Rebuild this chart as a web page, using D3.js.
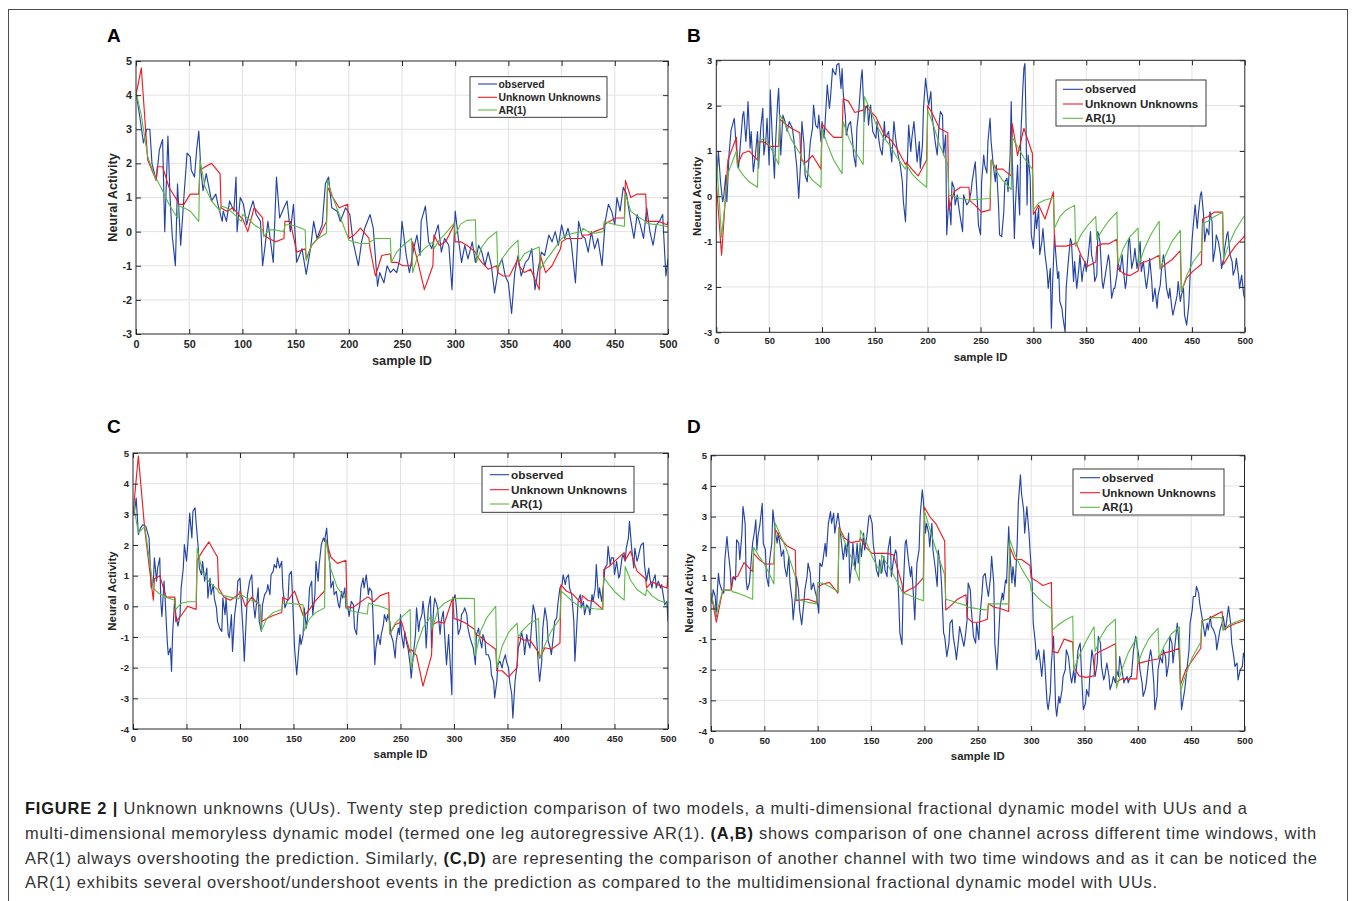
<!DOCTYPE html>
<html>
<head>
<meta charset="utf-8">
<script src="https://cdn.jsdelivr.net/npm/d3@7"></script>
<style>
  body { margin: 0; background: #fff; }
  svg text { font-family: "Liberation Sans", Arial, Helvetica, sans-serif; }
</style>
</head>
<body>
<svg id="fig" width="1358" height="901"></svg>
<script>
// ---- data ----
const xTicks = d3.range(0, 501, 50);
const winLen = 20;              // twenty step prediction windows
const winOffsets = [0, 5, 11, 19];
const seriesNames = ["observed", "Unknown Unknowns", "AR(1)"];
const seriesColors = ["#2444a4", "#ee1d23", "#5cb946"];

// observed: [sample ID, value]
const obsA = [
  [0,4.1],[4,3.27],[7,2.6],[10,3.0],[13,3.0],[15,2.0],[19,1.5],[22,2.4],[25,2.7],[27,0.0],
  [30,2.8],[32,1.0],[34,-0.1],[37,-1.0],[39,1.4],[42,-0.4],[45,1.0],[48,2.3],[51,2.2],[52,1.8],
  [55,1.6],[57,2.4],[59,2.95],[61,1.8],[63,1.2],[66,1.7],[71,0.9],[75,1.1],[77,0.8],[81,0.3],
  [82,0.6],[85,0.3],[88,0.9],[92,0.6],[94,1.6],[95,0.0],[98,1.0],[101,0.8],[104,0.2],[107,0.6],
  [110,0.9],[113,0.5],[117,0.3],[119,-1.0],[121,-0.5],[124,0.3],[129,-0.9],[132,1.6],[135,0.4],[139,0.7],
  [142,0.9],[145,0.0],[148,0.8],[151,-0.9],[156,-0.5],[160,-1.25],[164,-0.5],[167,0.3],[170,-0.2],[175,0.2],
  [178,1.4],[181,1.6],[184,0.7],[189,0.6],[192,0.3],[197,0.7],[201,0.5],[204,-0.3],[209,-1.0],[212,-0.3],
  [215,0.1],[220,0.5],[223,0.1],[227,-1.6],[229,-1.2],[233,-1.5],[236,-1.0],[239,-1.2],[242,-1.1],[245,-1.2],
  [248,-0.8],[250,0.3],[254,-0.7],[257,-1.2],[261,-0.5],[264,-0.1],[267,-0.7],[268,0.3],[272,0.75],[275,-0.3],
  [278,-0.5],[281,-0.1],[284,0.2],[287,-0.6],[290,-0.2],[294,-0.4],[297,-1.7],[300,0.6],[303,-0.2],[306,-0.9],
  [309,-0.4],[312,-0.8],[316,-0.3],[319,-0.9],[322,-0.4],[325,-0.6],[328,-1.0],[331,-0.6],[334,-1.0],[337,-1.8],
  [341,-1.0],[344,-0.8],[347,-1.3],[350,-1.5],[353,-2.4],[356,-1.2],[359,-0.7],[362,-1.3],[366,-0.9],[369,-0.8],
  [372,-0.5],[375,-1.7],[378,-1.1],[381,-0.6],[384,-0.7],[388,-0.1],[391,-0.3],[394,0.0],[397,-0.4],[400,0.2],
  [403,-0.2],[406,0.1],[409,-0.3],[413,-1.5],[416,0.3],[419,-0.1],[422,-0.2],[425,-0.6],[428,0.0],[431,-0.5],
  [434,-0.2],[438,-1.0],[441,0.3],[444,0.8],[447,0.6],[450,0.2],[452,1.0],[455,0.6],[458,1.3],[461,1.1],
  [464,0.5],[468,-0.2],[471,0.5],[474,0.2],[477,-0.2],[480,0.7],[483,0.0],[486,-0.4],[489,0.2],[492,0.3],
  [495,0.5],[498,-1.3],[500,-0.8]
];
const obsB = [
  [0,0.21],[2,0.99],[4,0.32],[6,-0.12],[7,-0.01],[9,0.47],[10,-0.12],[12,0.91],[14,1.46],[17,1.72],
  [19,1.06],[21,0.62],[23,1.21],[25,1.79],[26,1.87],[28,1.21],[29,1.57],[30,2.09],[32,1.06],[33,1.43],
  [35,0.54],[37,0.91],[39,1.43],[40,0.62],[42,1.5],[44,1.94],[45,0.91],[47,1.28],[48,1.72],[50,0.69],
  [51,2.35],[53,1.28],[55,0.4],[56,1.13],[58,2.09],[59,2.38],[61,0.91],[63,1.79],[65,1.65],[67,1.43],
  [69,1.65],[72,1.5],[74,1.13],[76,0.69],[78,-0.04],[80,0.84],[81,1.65],[83,1.13],[84,0.47],[86,0.32],
  [88,0.91],[89,1.21],[91,1.5],[92,2.01],[94,1.57],[96,1.5],[97,1.79],[99,1.21],[100,1.65],[102,1.28],
  [103,1.65],[105,2.46],[107,1.94],[108,2.16],[110,2.82],[111,2.75],[113,2.68],[114,2.9],[116,2.93],[118,2.38],
  [119,2.82],[120,2.31],[122,1.79],[123,1.35],[125,1.57],[127,1.65],[129,1.21],[130,0.91],[132,0.65],[133,1.5],
  [135,1.94],[137,2.6],[138,2.79],[140,1.65],[141,1.94],[143,2.01],[144,1.57],[146,2.01],[148,1.43],[151,1.28],
  [152,1.65],[154,1.21],[155,1.06],[157,0.91],[159,1.65],[160,1.28],[163,1.43],[166,0.76],[168,1.65],[170,1.21],
  [172,0.91],[174,0.69],[176,0.32],[177,-0.12],[179,-0.56],[181,0.91],[182,1.57],[184,0.99],[185,1.28],[187,1.65],
  [189,1.06],[190,0.76],[192,1.21],[193,0.62],[195,1.13],[196,1.94],[198,2.6],[200,2.16],[201,2.01],[203,2.31],
  [204,1.79],[206,1.43],[207,1.21],[209,0.91],[211,1.65],[212,1.87],[214,1.79],[215,0.91],[217,1.35],[218,-0.85],
  [220,-0.04],[222,-0.63],[223,0.32],[225,0.18],[226,-0.19],[228,0.03],[230,-0.34],[233,-0.78],[234,0.03],[237,-0.19],
  [239,-0.12],[241,0.1],[242,0.32],[244,0.62],[245,0.76],[247,-0.12],[248,-0.63],[250,-0.85],[251,0.32],[253,0.91],
  [254,0.69],[256,0.51],[257,1.21],[259,1.72],[260,1.21],[262,0.69],[264,0.32],[265,0.69],[267,-0.19],[268,-0.85],
  [270,-0.89],[272,-0.34],[273,0.32],[275,0.4],[276,0.1],[278,0.91],[279,2.09],[280,0.91],[282,-0.93],[283,-0.19],
  [285,0.69],[286,0.03],[287,-0.41],[288,1.28],[290,2.38],[291,2.82],[292,2.93],[293,1.65],[294,-0.19],[295,0.91],
  [297,0.4],[298,-0.85],[300,-1.15],[302,-0.34],[303,-0.71],[305,-0.26],[306,-1.29],[308,-1.0],[309,-0.71],[311,-1.29],
  [313,-1.66],[314,-2.03],[316,-1.59],[317,-2.91],[318,-2.03],[320,-0.85],[321,-1.22],[323,-1.81],[324,-1.66],[325,-2.32],
  [327,-2.47],[328,-2.69],[330,-2.99],[331,-2.03],[333,-1.44],[335,-0.93],[336,-1.0],[338,-1.88],[339,-1.44],[341,-2.03],
  [343,-1.59],[344,-1.29],[346,-1.88],[347,-1.66],[349,-1.44],[350,-1.66],[352,-1.29],[354,-0.78],[355,-1.29],[357,-1.51],
  [358,-1.88],[360,-1.74],[361,-0.78],[363,-1.0],[365,-1.88],[366,-2.03],[368,-1.74],[369,-1.59],[371,-1.29],[372,-1.44],
  [374,-2.25],[376,-2.03],[377,-2.03],[379,-1.74],[380,-1.44],[382,-1.66],[384,-1.29],[385,-1.59],[387,-2.03],[388,-1.88],
  [390,-1.0],[391,-0.93],[393,-1.59],[395,-1.37],[396,-1.15],[398,-1.59],[399,-1.44],[401,-1.0],[402,-1.66],[404,-1.44],
  [406,-1.88],[407,-2.03],[409,-1.66],[410,-1.37],[412,-1.88],[413,-2.32],[415,-2.03],[417,-2.47],[418,-2.18],[420,-1.96],
  [421,-1.66],[423,-1.29],[424,-1.44],[426,-2.03],[428,-2.25],[429,-2.03],[431,-2.47],[432,-2.62],[434,-2.4],[436,-2.18],
  [437,-1.88],[439,-2.32],[440,-2.18],[442,-2.03],[443,-2.62],[445,-2.84],[447,-2.4],[448,-1.88],[450,-1.0],[451,-0.71],
  [453,-0.19],[455,-0.71],[456,-0.41],[458,0.03],[459,0.1],[461,-0.41],[462,-1.0],[464,-0.71],[466,-0.85],[467,-0.34],
  [469,-0.56],[470,-1.44],[472,-1.15],[473,-0.85],[475,-1.0],[477,-1.29],[478,-1.59],[480,-1.37],[481,-1.15],[483,-0.85],
  [484,-0.78],[486,-1.29],[488,-1.44],[489,-1.74],[491,-1.59],[492,-1.37],[494,-1.74],[495,-2.03],[497,-1.74],[499,-2.18],
  [500,-2.25]
];
const obsC = [
  [0,3.3],[1,2.99],[3,3.53],[5,2.34],[7,2.55],[9,2.66],[12,2.61],[15,2.23],[17,0.6],[19,0.82],
  [20,1.58],[22,0.82],[23,1.25],[25,1.58],[26,0.16],[27,-0.33],[29,0.82],[30,0.27],[32,-1.14],[33,-1.58],
  [35,-1.36],[36,-2.12],[37,-0.92],[39,0.27],[40,-0.27],[42,-0.65],[44,-0.27],[45,0.6],[47,1.25],[48,2.01],
  [50,1.47],[51,1.9],[53,3.04],[55,2.23],[56,3.1],[58,3.21],[59,2.72],[61,1.9],[62,1.25],[64,1.03],
  [65,1.47],[67,0.82],[69,1.25],[70,0.27],[72,0.92],[73,0.38],[75,0.71],[76,0.27],[78,-0.05],[79,-0.49],
  [81,-0.71],[83,-0.82],[84,0.27],[86,-0.27],[87,0.27],[89,-0.92],[90,-1.03],[92,-0.27],[93,-1.47],[95,-0.27],
  [97,0.27],[98,0.82],[100,0.92],[101,0.27],[103,-0.92],[104,-1.79],[106,-0.27],[107,0.38],[109,0.82],[111,1.03],
  [112,0.27],[114,-0.38],[115,-0.05],[117,0.6],[118,-0.49],[120,-0.82],[121,0.05],[123,0.38],[125,0.49],[126,0.71],
  [128,0.38],[129,1.03],[131,1.14],[132,1.36],[134,1.25],[135,1.58],[137,1.25],[139,1.47],[140,0.6],[142,-0.05],
  [143,0.05],[145,0.27],[146,1.03],[148,1.14],[149,0.38],[151,-1.36],[153,-2.23],[154,-1.79],[156,-0.92],[157,-1.25],
  [159,-0.92],[160,-0.05],[162,-0.71],[164,-0.05],[165,0.6],[167,0.82],[168,-0.27],[170,0.38],[171,1.47],[173,0.82],
  [174,1.36],[176,2.01],[178,2.23],[179,2.12],[181,2.55],[182,2.01],[184,1.36],[185,0.6],[187,0.82],[188,0.38],
  [190,0.49],[192,0.05],[193,-0.05],[195,0.49],[196,0.27],[198,0.6],[199,-0.05],[201,-0.05],[202,-0.33],[204,0.16],
  [206,0.05],[207,-0.71],[209,-0.92],[210,-0.27],[212,0.05],[213,0.6],[215,0.92],[216,0.6],[218,1.03],[220,0.38],
  [221,0.6],[223,0.49],[224,-0.05],[226,-1.9],[227,-1.36],[229,-0.92],[231,-1.25],[232,-0.92],[234,-0.6],[235,-0.27],
  [237,-0.49],[238,-0.27],[240,-0.49],[241,-0.92],[243,-1.14],[245,-1.68],[246,-1.14],[248,-0.71],[249,-0.92],[250,-0.27],
  [251,-0.92],[253,-1.36],[254,-0.82],[256,-1.25],[257,-1.36],[259,-1.9],[260,-2.34],[262,-1.58],[264,-0.92],[265,-0.05],
  [267,-0.82],[268,-0.49],[270,-0.27],[271,0.16],[273,-0.49],[274,-1.36],[276,-0.05],[278,0.33],[279,-1.36],[281,-0.05],
  [282,0.27],[284,0.05],[285,-0.16],[287,-0.92],[288,-0.49],[290,-0.16],[292,-1.36],[293,-1.9],[295,-0.92],[296,-1.58],
  [298,-2.88],[299,0.16],[301,0.38],[302,0.05],[304,-0.92],[306,-0.71],[307,-0.27],[309,-0.16],[310,-0.05],[312,-0.27],
  [313,-0.71],[315,-1.03],[316,-1.14],[318,-1.36],[320,-1.9],[321,-0.92],[323,-0.71],[324,-1.03],[326,-1.36],[327,-0.92],
  [329,-1.14],[330,-1.58],[332,-1.58],[334,-1.79],[335,-2.23],[337,-2.45],[338,-2.99],[340,-2.45],[341,-1.9],[343,-1.79],
  [345,-2.01],[346,-1.79],[348,-1.58],[349,-1.79],[351,-2.01],[352,-2.45],[354,-2.88],[355,-3.64],[357,-2.45],[359,-1.9],
  [360,-1.36],[362,-1.14],[363,-0.82],[365,-1.14],[366,-1.58],[368,-0.92],[369,-1.14],[371,-1.36],[373,-0.38],[374,0.05],
  [376,-0.27],[377,-0.92],[379,-2.01],[380,-2.45],[382,-1.79],[383,-0.71],[385,-0.05],[387,-0.49],[388,-1.14],[390,-1.36],
  [391,-1.58],[393,-0.92],[394,-0.49],[396,-0.38],[397,0.05],[399,0.6],[401,0.71],[402,1.03],[404,0.71],[405,0.92],
  [407,1.03],[408,0.6],[410,0.38],[412,-0.49],[413,-1.79],[415,-0.49],[416,0.16],[418,0.38],[419,-0.05],[421,0.16],
  [422,-0.27],[424,0.05],[426,-0.05],[427,-0.27],[429,0.38],[430,0.16],[432,0.6],[433,1.36],[435,0.27],[436,0.6],
  [438,0.16],[440,0.82],[441,1.25],[443,1.36],[444,1.96],[446,1.36],[447,1.58],[449,1.58],[450,1.03],[452,1.47],
  [454,0.92],[455,1.03],[457,1.58],[458,1.68],[460,1.47],[461,1.9],[463,2.23],[464,2.77],[466,1.9],[468,1.25],
  [469,1.9],[471,1.47],[472,1.58],[474,1.9],[475,2.01],[477,2.07],[478,1.36],[480,0.82],[482,1.25],[483,0.92],
  [485,0.6],[486,0.82],[488,1.03],[489,0.6],[491,0.82],[493,0.6],[494,0.71],[496,0.27],[497,0.05],[499,0.16],
  [500,-0.49]
];
const obsD = [
  [0,0.5],[1,0.17],[2,0.61],[4,0.39],[5,-0.26],[6,0.61],[7,1.15],[8,0.83],[10,0.61],[12,0.5],
  [13,1.59],[15,2.35],[16,1.91],[18,1.26],[19,0.61],[21,1.04],[23,0.93],[24,2.24],[26,2.13],[27,1.59],
  [29,2.46],[30,3.33],[32,2.78],[33,0.93],[34,0.61],[36,0.83],[38,1.7],[39,2.13],[41,2.57],[42,2.89],
  [43,1.91],[44,2.35],[46,2.78],[48,3.43],[49,2.13],[51,1.91],[52,1.04],[54,0.72],[55,1.59],[57,2.13],
  [58,3.22],[60,2.57],[62,2.13],[63,2.46],[65,2.02],[66,1.7],[68,1.91],[69,1.37],[71,1.04],[73,1.7],
  [74,0.83],[76,0.28],[77,-0.37],[79,0.39],[80,1.04],[82,0.61],[83,-0.04],[85,-0.53],[87,0.17],[88,0.61],
  [90,1.04],[91,1.48],[93,1.15],[94,0.61],[96,0.83],[98,0.5],[99,0.39],[101,-0.15],[102,1.48],[104,1.37],
  [105,1.59],[107,2.13],[108,1.7],[110,2.78],[112,3.16],[113,2.78],[115,3.11],[116,2.46],[118,2.89],[119,3.11],
  [121,2.57],[123,1.91],[124,1.59],[126,2.13],[127,1.7],[129,2.46],[130,0.83],[132,1.48],[133,2.13],[135,1.26],
  [137,2.13],[138,1.48],[140,2.13],[141,1.7],[143,2.46],[144,1.91],[146,2.35],[148,3.0],[149,3.05],[151,2.78],
  [152,2.13],[154,1.59],[155,1.26],[157,1.04],[158,1.59],[160,1.15],[162,1.7],[163,1.26],[165,1.04],[166,1.91],
  [168,2.35],[169,1.04],[171,1.59],[173,1.91],[174,1.8],[176,0.28],[177,-0.8],[179,-1.18],[180,0.5],[182,2.13],
  [183,2.24],[185,1.59],[187,1.04],[188,1.37],[190,0.28],[191,-0.37],[192,0.61],[193,1.48],[195,1.91],[196,3.0],
  [198,3.87],[199,3.54],[201,2.46],[202,2.78],[204,2.46],[205,2.02],[207,2.78],[208,1.91],[210,1.37],[212,0.72],
  [213,1.91],[215,1.37],[216,0.83],[218,-0.8],[219,-0.91],[221,-1.57],[223,-1.13],[224,-0.48],[226,-0.37],[227,-0.91],
  [229,-1.35],[230,-1.67],[232,-1.02],[233,-0.59],[235,-0.91],[237,-1.24],[238,-1.02],[240,-0.37],[241,0.83],[243,0.61],
  [244,-0.04],[246,-0.91],[248,-1.13],[249,-0.48],[251,-1.02],[252,-0.26],[254,0.5],[255,1.04],[257,1.15],[258,0.83],
  [260,0.39],[262,1.04],[263,1.7],[265,0.83],[266,-1.13],[268,-2.0],[269,-1.35],[271,0.07],[273,0.5],[274,0.28],
  [276,0.93],[277,0.83],[279,2.67],[280,1.91],[282,0.83],[283,1.37],[285,0.72],[287,2.13],[288,3.43],[290,4.36],
  [291,3.76],[293,3.22],[294,2.46],[296,3.33],[298,2.46],[299,1.91],[301,0.83],[302,-0.48],[304,-1.13],[305,-1.67],
  [307,-1.35],[308,-1.57],[310,-2.22],[312,-1.35],[313,-1.89],[315,-3.09],[316,-3.3],[318,-2.76],[319,-1.78],[321,-0.91],
  [323,-3.2],[324,-3.52],[326,-2.87],[327,-3.09],[329,-2.65],[330,-2.22],[332,-2.0],[333,-1.35],[335,-1.57],[337,-2.22],
  [338,-2.43],[340,-2.0],[341,-2.43],[343,-1.78],[344,-1.35],[346,-1.13],[348,-2.65],[349,-3.3],[351,-3.09],[352,-2.65],
  [354,-2.87],[355,-2.22],[357,-1.35],[358,-1.57],[360,-2.22],[362,-1.78],[363,-0.91],[365,-1.13],[366,-1.89],[368,-2.33],
  [369,-2.22],[371,-1.78],[373,-2.22],[374,-2.65],[376,-2.43],[377,-2.22],[379,-2.43],[380,-2.0],[382,-2.22],[383,-1.57],
  [385,-2.0],[387,-2.43],[388,-2.33],[390,-2.22],[391,-2.43],[393,-2.22],[394,-2.22],[396,-1.35],[398,-0.91],[399,-1.13],
  [401,-1.57],[402,-2.0],[404,-2.43],[405,-2.87],[407,-2.65],[408,-2.43],[410,-1.78],[412,-1.35],[413,-1.57],[415,-2.43],
  [416,-3.3],[418,-2.87],[419,-2.0],[421,-1.57],[423,-1.78],[424,-1.35],[426,-1.57],[427,-2.22],[429,-1.78],[430,-0.91],
  [432,-1.13],[433,-1.78],[435,-1.13],[437,-0.48],[438,-0.91],[440,-2.43],[441,-3.3],[443,-2.87],[444,-2.65],[446,-2.0],
  [448,-1.35],[449,-0.48],[451,-0.04],[452,0.39],[454,0.39],[455,0.72],[457,0.5],[458,0.17],[460,-0.26],[462,-0.7],
  [463,-0.91],[465,-0.48],[466,-0.7],[468,-0.26],[469,-0.59],[471,-0.7],[473,-0.91],[474,-1.35],[476,-0.91],[477,-0.7],
  [479,-0.48],[480,-0.26],[482,-0.7],[483,-0.48],[485,0.07],[487,-0.48],[488,-1.13],[490,-1.57],[491,-1.89],[493,-1.78],
  [494,-2.33],[496,-2.0],[498,-1.89],[499,-1.46],[500,-1.6]
];

// predictions: four values per 20-sample window (offsets 0, 5, 11, 19), last value at 500
const uuA = [
  4.0, 4.8, 2.1, 1.5,   1.9, 1.9, 1.3, 0.9,   0.8, 0.8, 1.1, 1.1,   1.8, 1.9, 2.0, 1.7,
  0.7, 0.6, 0.7, 0.4,   0.4, 0.0, 0.7, 0.4,   -0.1, -0.2, -0.3, -0.2,   0.3, 0.3, -0.6, -0.5,
  -0.8, -0.4, -0.2, 0.3,   1.3, 1.0, 0.7, 0.8,   -0.2, -0.1, 0.1, -0.2,   -0.5, -1.3, -0.7, -0.65,
  -0.9, -0.9, -1.0, -1.0,   -0.3, -0.9, -1.7, -1.0,   -0.1, -0.4, -0.3, 0.2,   -0.3, -0.3, -0.4, -0.6,
  -0.7, -0.9, -1.1, -1.0,   -1.2, -1.3, -1.3, -0.8,   -1.0, -1.2, -1.1, -1.7,   -0.7, -1.2, -1.0, -0.5,
  -0.3, -0.2, -0.2, -0.2,   -0.1, -0.1, 0.0, 0.1,   0.2, 0.3, 0.4, 0.4,   1.5, 1.0, 1.1, 1.1,
  0.3, 0.3, 0.3, 0.2,
  0.3
];
const arA = [
  4.1, 3.4, 2.2, 1.5,   1.5, 1.2, 0.8, 0.4,   0.75, 0.7, 0.6, 0.3,   2.1, 1.3, 0.9, 0.6,
  0.75, 0.7, 0.55, 0.3,   0.5, 0.4, 0.2, 0.05,   -0.15, 0.05, 0.05, 0.0,   0.2, 0.2, 0.15, 0.05,
  -0.85, -0.4, -0.2, -0.05,   1.5, 1.0, 0.5, -0.15,   -0.25, -0.3, -0.35, -0.35,   -0.3, -0.2, -0.2, -0.2,
  -0.9, -0.6, -0.4, -0.2,   -1.2, -0.7, -0.5, -0.3,   -0.5, -0.25, -0.05, 0.25,   -0.1, 0.22, 0.33, 0.35,
  -0.9, -0.45, -0.2, 0.0,   -1.1, -0.75, -0.5, -0.25,   -0.9, -0.65, -0.55, -0.45,   -1.1, -0.85, -0.6, -0.25,
  -0.2, -0.1, -0.05, 0.0,   0.1, 0.0, -0.05, 0.0,   0.3, 0.25, 0.2, 0.15,   1.1, 0.6, 0.45, 0.3,
  0.25, 0.22, 0.2, 0.15,
  0.15
];
const uuB = [
  0.3, -1.3, 0.8, 1.3,   0.7, 0.95, 1.0, 0.8,   1.2, 1.2, 1.1, 1.1,   1.7, 1.6, 1.5, 1.4,
  0.8, 0.75, 0.9, 0.6,   1.6, 1.45, 1.3, 1.3,   2.15, 2.1, 1.85, 1.9,   2.0, 1.9, 1.75, 1.35,
  1.35, 1.25, 1.05, 0.7,   0.75, 0.6, 0.45, 0.8,   2.0, 1.8, 1.5, 1.4,   -0.3, 0.1, 0.2, 0.2,
  -0.1, -0.2, -0.35, -0.3,   0.8, 0.6, 0.6, 0.45,   1.6, 0.9, 1.5, 0.95,   -0.4, -0.2, -0.5, 0.1,
  -1.1, -1.1, -1.1, -1.05,   -1.0, -1.3, -1.55, -1.45,   -1.1, -1.05, -1.05, -0.95,   -1.6, -1.7, -1.75, -1.65,
  -1.5, -1.45, -1.4, -1.3,   -1.6, -1.5, -1.4, -1.2,   -2.1, -1.8, -1.65, -1.5,   -0.5, -0.45, -0.35, -0.35,
  -1.5, -1.3, -1.1, -0.9,
  -0.85
];
const arB = [
  0.9, -0.9, 0.5, 1.0,   0.65, 0.48, 0.32, 0.2,   1.2, 1.28, 1.1, 0.7,   1.8, 1.6, 1.25, 0.95,
  0.9, 0.55, 0.35, 0.2,   1.5, 1.15, 0.8, 0.5,   1.65, 1.3, 1.0, 0.7,   2.2, 1.95, 1.6, 1.25,
  1.25, 1.1, 0.85, 0.6,   0.7, 0.5, 0.35, 0.2,   1.9, 1.6, 1.15, 0.7,   0.02, 0.0, -0.05, -0.08,
  -0.08, -0.07, -0.06, -0.05,   0.8, 0.55, 0.35, 0.15,   1.3, 1.1, 0.85, 0.6,   -0.3, -0.15, -0.08, -0.03,
  -0.7, -0.45, -0.3, -0.2,   -1.1, -0.85, -0.65, -0.45,   -0.95, -0.75, -0.55, -0.35,   -1.5, -1.15, -0.9, -0.7,
  -1.5, -1.15, -0.85, -0.55,   -1.6, -1.3, -1.0, -0.75,   -2.1, -1.75, -1.45, -1.2,   -0.6, -0.55, -0.45, -0.35,
  -1.4, -1.05, -0.75, -0.45,
  -0.45
];
const uuC = [
  3.0, 4.9, 2.5, 0.2,   0.9, 1.0, 0.3, 0.3,   -0.5, -0.3, 0.0, -0.1,   1.5, 1.8, 2.1, 1.6,
  0.6, 0.3, 0.2, 0.4,   0.5, 0.0, 0.3, 0.0,   -0.5, -0.4, -0.3, -0.2,   0.3, 0.2, 0.5, -0.3,
  -0.3, -0.1, 0.2, 0.5,   2.2, 1.6, 1.4, 1.5,   0.0, -0.05, 0.1, 0.3,   0.3, 0.15, 0.35, 0.45,
  -0.9, -0.6, -0.5, -1.5,   -1.4, -1.6, -2.6, -1.6,   -0.6, -0.5, -0.55, 0.3,   -0.4, -0.45, -0.55, -0.75,
  -0.9, -1.0, -1.2, -1.4,   -2.1, -2.1, -2.3, -2.0,   -1.0, -1.1, -1.1, -1.5,   -1.7, -1.35, -1.4, -1.2,
  0.7, 0.5, 0.4, 0.1,   0.35, 0.2, 0.15, -0.1,   1.2, 1.3, 1.5, 1.75,   1.5, 1.8, 1.15, 0.9,
  0.6, 0.8, 0.7, 0.6,
  1.0
];
const arC = [
  3.4, 2.4, 2.6, 0.6,   0.55, 0.4, 0.3, 0.2,   -0.1, 0.1, 0.15, 0.15,   1.9, 1.1, 0.8, 0.55,
  0.45, 0.35, 0.3, 0.25,   0.4, 0.3, 0.2, 0.05,   -0.8, -0.4, -0.2, -0.1,   0.1, 0.1, 0.08, 0.05,
  -0.8, -0.4, -0.2, -0.05,   2.2, 1.2, 0.6, 0.25,   -0.1, -0.15, -0.2, -0.25,   0.1, 0.05, 0.0, -0.1,
  -0.9, -0.55, -0.35, -0.1,   -2.0, -1.3, -0.7, -0.3,   -0.7, -0.1, 0.1, 0.25,   0.25, 0.26, 0.26, 0.25,
  -1.6, -0.8, -0.35, 0.0,   -2.0, -1.3, -0.85, -0.55,   -1.0, -0.75, -0.55, -0.4,   -1.7, -1.25, -0.8, -0.4,
  0.5, 0.35, 0.15, -0.05,   0.0, -0.05, -0.08, -0.1,   0.95, 0.7, 0.45, 0.2,   1.3, 0.85, 0.55, 0.35,
  0.55, 0.35, 0.2, 0.1,
  0.1
];
const uuD = [
  0.5, -0.45, 0.6, 0.6,   1.0, 1.05, 1.5, 1.2,   1.8, 1.6, 1.45, 1.45,   2.6, 2.3, 2.05, 1.9,
  0.25, 0.28, 0.3, 0.2,   0.7, 0.8, 0.85, 0.5,   2.65, 2.3, 2.15, 2.2,   2.3, 2.0, 1.8, 1.8,
  1.8, 1.8, 1.75, 0.8,   0.5, 0.6, 0.7, 1.0,   3.3, 3.0, 2.75, 2.2,   -0.05, 0.1, 0.3, 0.45,
  -0.3, -0.45, -0.45, -0.35,   0.15, 0.05, 0.0, -0.1,   2.0, 1.6, 1.6, 1.4,   1.0, 0.9, 0.75, 0.85,
  -1.4, -1.45, -1.0, -1.1,   -1.9, -2.2, -2.25, -2.2,   -1.5, -1.4, -1.3, -1.15,   -2.4, -2.3, -2.3, -2.3,
  -1.8, -1.75, -1.7, -1.65,   -1.55, -1.45, -1.4, -1.3,   -2.5, -2.0, -1.7, -1.3,   -0.4, -0.35, -0.25, -0.1,
  -0.7, -0.6, -0.5, -0.4,
  -0.35
];
const arD = [
  0.5, -0.2, 0.6, 0.6,   0.55, 0.5, 0.42, 0.3,   2.0, 1.7, 1.4, 0.8,   2.8, 2.4, 1.9, 1.05,
  0.3, 0.25, 0.2, 0.15,   0.85, 0.82, 0.72, 0.55,   2.6, 2.2, 1.7, 0.9,   2.55, 2.2, 1.7, 1.15,
  1.75, 1.45, 1.1, 0.55,   0.5, 0.45, 0.35, 0.25,   3.2, 2.6, 1.9, 1.1,   0.3, 0.25, 0.18, 0.1,
  0.05, 0.02, -0.02, -0.05,   0.15, 0.15, 0.15, 0.15,   2.25, 1.75, 1.3, 0.85,   0.6, 0.4, 0.2, 0.0,
  -0.7, -0.55, -0.4, -0.25,   -2.0, -1.55, -1.1, -0.6,   -1.4, -0.95, -0.6, -0.35,   -2.6, -2.0, -1.45, -0.95,
  -1.8, -1.35, -0.95, -0.65,   -1.6, -1.2, -0.85, -0.6,   -2.7, -2.15, -1.6, -1.1,   -0.4, -0.35, -0.3, -0.3,
  -0.7, -0.55, -0.45, -0.35,
  -0.35
];

// sample positions of the window values
const winX = d3.range(0, 25).flatMap(k => winOffsets.map(o => k * winLen + o)).concat([500]);

// ---- layout ----
const panels = [
  { letter: "A", obs: obsA, uu: uuA, ar: arA, yTicks: d3.range(-3, 6),
    left: 136, right: 668, top: 61, bottom: 334, letterX: 107, letterY: 42,
    tickFont: 10.8, xPad: 6, labelFont: 12.7, yLabelX: 113, xLabelY: 365,
    legend: { x: 470, y: 76.7, w: 137, h: 40.6, rows: [84, 97.3, 110], l0: 478, l1: 497, tx: 498.5, font: 10.4 } },
  { letter: "B", obs: obsB, uu: uuB, ar: arB, yTicks: d3.range(-3, 4),
    left: 716.3, right: 1244.8, top: 60.3, bottom: 332.3, letterX: 687, letterY: 42,
    tickFont: 9.4, xPad: 5, labelFont: 11.4, yLabelX: 697, xLabelY: 361,
    legend: { x: 1056, y: 80, w: 150, h: 46, rows: [89.3, 104, 118.3], l0: 1063, l1: 1083, tx: 1085, font: 11.5 } },
  { letter: "C", obs: obsC, uu: uuC, ar: arC, yTicks: d3.range(-4, 6),
    left: 133, right: 668, top: 453, bottom: 729, letterX: 107, letterY: 433,
    tickFont: 9.6, xPad: 6, labelFont: 11.4, yLabelX: 112, xLabelY: 758,
    legend: { x: 482, y: 466.3, w: 152, h: 46, rows: [474.7, 489.7, 504], l0: 490, l1: 509, tx: 511, font: 11.8 } },
  { letter: "D", obs: obsD, uu: uuD, ar: arD, yTicks: d3.range(-4, 6),
    left: 711, right: 1244.5, top: 455.3, bottom: 731, letterX: 687, letterY: 433,
    tickFont: 9.6, xPad: 6, labelFont: 11.4, yLabelX: 689, xLabelY: 760,
    legend: { x: 1073, y: 469, w: 151, h: 46, rows: [477.7, 492.7, 507.3], l0: 1080, l1: 1100, tx: 1102, font: 11.6 } }
];

const FONT = '"Liberation Sans", Arial, Helvetica, sans-serif';
const AXIS = "#262626";
const svg = d3.select("#fig");

// outer frame of the figure
svg.append("rect")
  .attr("x", 8.5).attr("y", 9.5).attr("width", 1339).attr("height", 1000)
  .attr("fill", "none").attr("stroke", "#4d4d4d").attr("stroke-width", 1);

function drawPanel(p) {
  const x = d3.scaleLinear().domain([0, 500]).range([p.left, p.right]);
  const y = d3.scaleLinear().domain(d3.extent(p.yTicks)).range([p.bottom, p.top]);
  const g = svg.append("g");

  // grid
  g.append("g").selectAll("line").data(xTicks.slice(1, -1)).join("line")
    .attr("x1", d => x(d)).attr("x2", d => x(d))
    .attr("y1", p.top).attr("y2", p.bottom)
    .attr("stroke", "#e2e2e2").attr("stroke-width", 1);
  g.append("g").selectAll("line").data(p.yTicks.slice(1, -1)).join("line")
    .attr("y1", d => y(d)).attr("y2", d => y(d))
    .attr("x1", p.left).attr("x2", p.right)
    .attr("stroke", "#e2e2e2").attr("stroke-width", 1);

  // series
  const clipId = "clip" + p.letter;
  svg.append("clipPath").attr("id", clipId).append("rect")
    .attr("x", p.left).attr("y", p.top)
    .attr("width", p.right - p.left).attr("height", p.bottom - p.top);
  const plot = g.append("g").attr("clip-path", `url(#${clipId})`);
  const line = d3.line().x(d => x(d[0])).y(d => y(d[1]));
  const series = [p.obs, d3.zip(winX, p.uu), d3.zip(winX, p.ar)];
  plot.selectAll("path").data(series).join("path")
    .attr("d", line)
    .attr("fill", "none")
    .attr("stroke", (d, i) => seriesColors[i])
    .attr("stroke-width", (d, i) => i === 2 ? 1.1 : 1.15)
    .attr("stroke-linejoin", "round");

  // axes (ticks inward, box on)
  const styleAxis = a => {
    a.select(".domain").remove();
    a.attr("font-family", FONT).attr("font-size", p.tickFont)
      .attr("font-weight", "bold").attr("color", AXIS);
  };
  const fmt = d => String(d);
  g.append("g").attr("transform", `translate(0,${p.bottom})`)
    .call(d3.axisBottom(x).tickValues(xTicks).tickFormat(fmt).tickSizeInner(-5).tickSizeOuter(0).tickPadding(p.xPad))
    .call(styleAxis);
  g.append("g").attr("transform", `translate(0,${p.top})`)
    .call(d3.axisTop(x).tickValues(xTicks).tickSizeInner(-5).tickSizeOuter(0).tickFormat(""))
    .call(styleAxis);
  g.append("g").attr("transform", `translate(${p.left},0)`)
    .call(d3.axisLeft(y).tickValues(p.yTicks).tickFormat(fmt).tickSizeInner(-5).tickSizeOuter(0).tickPadding(4))
    .call(styleAxis);
  g.append("g").attr("transform", `translate(${p.right},0)`)
    .call(d3.axisRight(y).tickValues(p.yTicks).tickSizeInner(-5).tickSizeOuter(0).tickFormat(""))
    .call(styleAxis);

  g.append("rect")
    .attr("x", p.left).attr("y", p.top)
    .attr("width", p.right - p.left).attr("height", p.bottom - p.top)
    .attr("fill", "none").attr("stroke", AXIS).attr("stroke-width", 1);

  // labels
  g.append("text")
    .attr("x", (p.left + p.right) / 2).attr("y", p.xLabelY)
    .attr("text-anchor", "middle").attr("font-weight", "bold")
    .attr("font-size", p.labelFont).attr("fill", AXIS)
    .text("sample ID");
  g.append("text")
    .attr("transform", `translate(${p.yLabelX},${(p.top + p.bottom) / 2}) rotate(-90)`)
    .attr("dy", "0.35em")
    .attr("text-anchor", "middle").attr("font-weight", "bold")
    .attr("font-size", p.labelFont).attr("fill", AXIS)
    .text("Neural Activity");
  g.append("text")
    .attr("x", p.letterX).attr("y", p.letterY)
    .attr("font-weight", "bold").attr("font-size", 19).attr("fill", "#000")
    .text(p.letter);

  // legend
  const L = p.legend;
  const lg = g.append("g");
  lg.append("rect")
    .attr("x", L.x).attr("y", L.y).attr("width", L.w).attr("height", L.h)
    .attr("fill", "#fff").attr("stroke", AXIS).attr("stroke-width", 0.9);
  const rows = lg.selectAll("g").data(seriesNames).join("g");
  rows.append("line")
    .attr("x1", L.l0).attr("x2", L.l1)
    .attr("y1", (d, i) => L.rows[i]).attr("y2", (d, i) => L.rows[i])
    .attr("stroke", (d, i) => seriesColors[i]).attr("stroke-width", 1.1);
  rows.append("text")
    .attr("x", L.tx).attr("y", (d, i) => L.rows[i]).attr("dy", "0.36em")
    .attr("font-weight", "bold").attr("font-size", L.font).attr("fill", AXIS)
    .text(d => d);
}

panels.forEach(drawPanel);

// ---- caption ----
const captionLines = [
  [["FIGURE 2 |", true], [" Unknown unknowns (UUs). Twenty step prediction comparison of two models, a multi-dimensional fractional dynamic model with UUs and a", false]],
  [["multi-dimensional memoryless dynamic model (termed one leg autoregressive AR(1). ", false], ["(A,B)", true], [" shows comparison of one channel across different time windows, with", false]],
  [["AR(1) always overshooting the prediction. Similarly, ", false], ["(C,D)", true], [" are representing the comparison of another channel with two time windows and as it can be noticed the", false]],
  [["AR(1) exhibits several overshoot/undershoot events in the prediction as compared to the multidimensional fractional dynamic model with UUs.", false]]
];
const captionY = [814, 839, 863.5, 888];
const captionW = [1222, 1291, 1292, 1132];

const cap = svg.append("g").attr("font-size", 16.4).attr("fill", "#333");
cap.selectAll("text").data(captionLines).join("text")
  .attr("x", 25).attr("y", (d, i) => captionY[i])
  .attr("textLength", (d, i) => captionW[i])
  .attr("lengthAdjust", "spacing")
  .selectAll("tspan").data(d => d).join("tspan")
  .attr("font-weight", d => d[1] ? "bold" : "normal")
  .attr("fill", d => d[1] ? "#1a1a1a" : "#333")
  .text(d => d[0]);
</script>
</body>
</html>
